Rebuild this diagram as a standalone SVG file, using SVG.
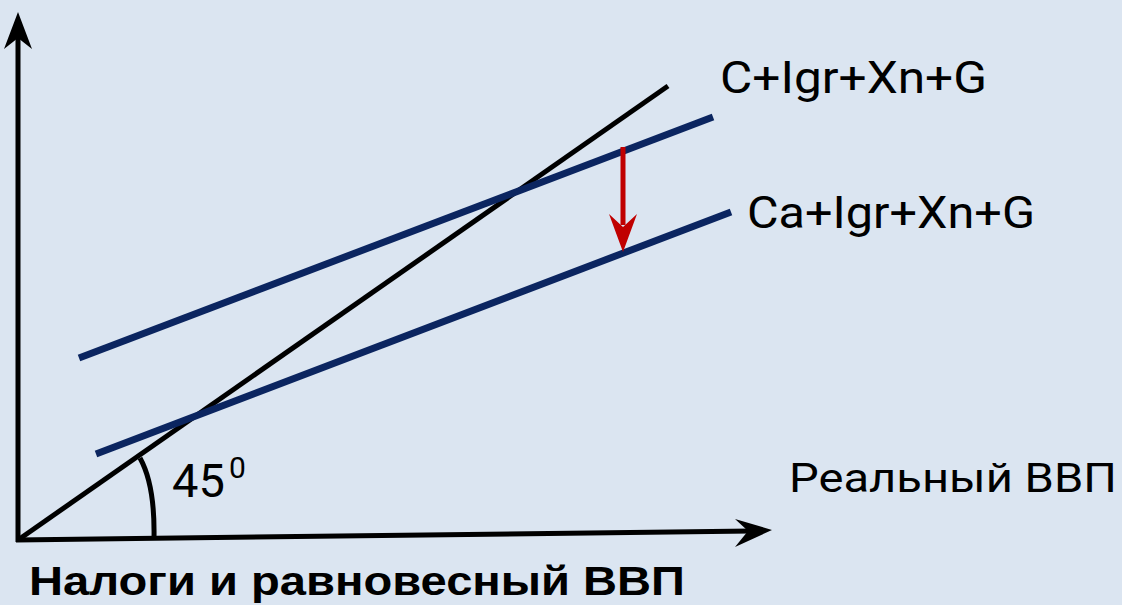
<svg xmlns="http://www.w3.org/2000/svg" width="1122" height="605" viewBox="0 0 1122 605">
<style>
text { font-family: Roboto, "Liberation Sans", Arial, sans-serif; fill: #000; }
.title { font-family: "Liberation Sans", Arial, sans-serif; font-weight: bold; }
.axis { stroke: #000; stroke-width: 5; fill: none; }
.navy { stroke: #0b2560; stroke-width: 7; fill: none; }
</style>
<rect x="0" y="0" width="1122" height="605" fill="#dbe5f1"/>
<g id="axes">
  <line class="axis" x1="18" y1="542" x2="18" y2="36"/>
  <path d="M18,12 L32,49 L18,38 L4,49 Z" fill="#000"/>
  <line class="axis" x1="16" y1="540" x2="752" y2="531"/>
  <path d="M772,530 L735,519 L748,531 L735,547 Z" fill="#000"/>
</g>
<g id="connectors">
  <line x1="18" y1="540" x2="668" y2="86" stroke="#000" stroke-width="5"/>
  <path d="M140,458 Q155,485 154,538" stroke="#000" stroke-width="5" fill="none"/>
  <line class="navy" x1="79" y1="358" x2="713" y2="117"/>
  <line class="navy" x1="96" y1="454" x2="731" y2="212"/>
  <line x1="623" y1="147" x2="623" y2="225" stroke="#c00000" stroke-width="5"/>
  <path d="M623,252 L609,214 L623,227 L637,214 Z" fill="#c00000"/>
</g>
<g id="labels">
  <text x="720" y="93" font-size="44" textLength="267" lengthAdjust="spacingAndGlyphs">C+Igr+Xn+G</text>
  <text x="747" y="228" font-size="44" textLength="288" lengthAdjust="spacingAndGlyphs">Ca+Igr+Xn+G</text>
  <text x="789" y="492" font-size="41" textLength="328" lengthAdjust="spacingAndGlyphs">Реальный ВВП</text>
  <text x="172" y="497" font-size="47">45</text>
  <text x="229" y="478" font-size="30">0</text>
  <text class="title" x="29" y="595" font-size="41" textLength="656" lengthAdjust="spacingAndGlyphs">Налоги и равновесный ВВП</text>
</g>
</svg>
